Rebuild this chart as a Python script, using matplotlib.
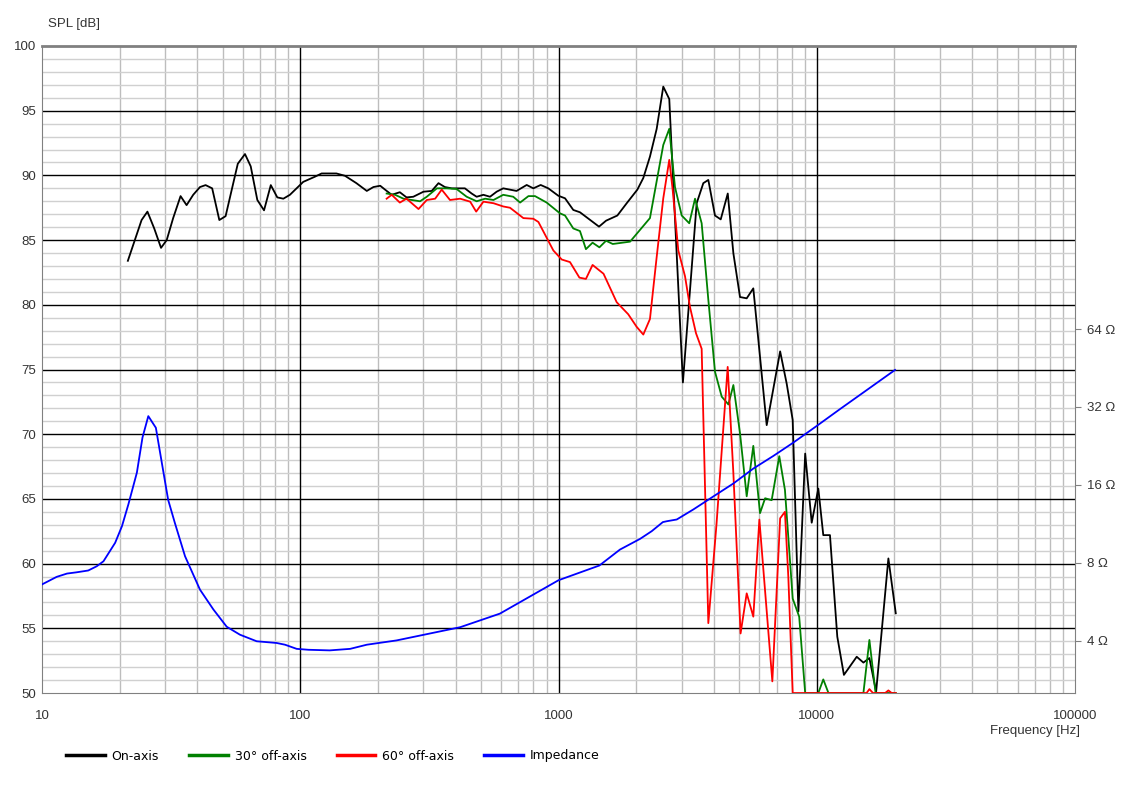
import matplotlib.pyplot as plt
import numpy as np
from matplotlib.ticker import LogLocator, NullLocator, FixedLocator, NullFormatter

# On-axis SPL (Hz, dB)
f_on = [21.5, 24.3, 25.6, 27.2, 28.9, 30.4, 32.2, 34.4, 36.3, 38.5, 40.9, 43.0, 45.6, 48.6, 51.4,
        54.3, 57.3, 61.1, 64.3, 68.2, 72.4, 76.9, 81.5, 86.0, 91.2, 102.7, 114, 121, 138, 149,
        165, 181, 192, 204, 213, 226, 243, 258, 274, 300, 323, 343, 363, 386, 434, 461, 482,
        512, 543, 576, 611, 648, 688, 753, 799, 853, 913, 998, 1060, 1141, 1211, 1435, 1528,
        1690, 1837, 2020, 2130, 2260, 2400, 2545, 2685, 2743, 3032, 3428, 3637, 3803, 4036,
        4248, 4523, 4755, 5045, 5355, 5680, 6400, 7215, 7650, 8070, 8490, 9020, 9560, 10140,
        10600, 11250, 12010, 12740, 14280, 15160, 15990, 16980, 18940, 20230]
spl_on = [83.4, 86.55, 87.2, 85.9, 84.4, 85.0, 86.7, 88.4, 87.7, 88.5, 89.1, 89.25, 89.0, 86.55, 86.85,
          88.9, 90.9, 91.65, 90.7, 88.1, 87.3, 89.25, 88.3, 88.2, 88.5, 89.5, 89.9, 90.15, 90.15, 89.97,
          89.4, 88.8, 89.1, 89.2, 88.9, 88.5, 88.7, 88.3, 88.35, 88.74, 88.8, 89.4, 89.1, 89.0, 89.0, 88.6, 88.35,
          88.5, 88.35, 88.74, 89.0, 88.9, 88.8, 89.26, 89.0, 89.26, 89.0, 88.43, 88.23, 87.33, 87.15, 86.04, 86.5,
          86.9, 87.85, 88.9, 89.8, 91.45, 93.6, 96.86, 95.9, 91.96, 74.0, 87.85, 89.4, 89.65, 86.9,
          86.6, 88.6, 83.98, 80.6, 80.5, 81.27, 70.7, 76.4, 73.9, 71.1, 56.3, 68.5, 63.16, 65.8,
          62.2, 62.2, 54.35, 51.4, 52.8, 52.35, 52.7, 50.1, 60.4, 56.16]

# 30 deg off-axis
f_30 = [216, 233, 251, 270, 291, 309, 338, 369, 403, 441, 482, 520, 560, 611, 668, 710, 765, 811,
        900, 1013, 1060, 1141, 1211, 1277, 1355, 1440, 1528, 1622, 1893, 2260, 2545, 2685, 2825,
        3000, 3209, 3378, 3584, 3803, 4036, 4286, 4548, 4755, 5045, 5355, 5680, 6030, 6310, 6690,
        7160, 7530, 8070, 8550, 9020, 10140, 10600, 11100, 15160, 15990, 16900, 20230]
spl_30 = [88.6, 88.5, 88.2, 88.1, 88.0, 88.35, 89.0, 89.0, 88.95, 88.35, 88.0, 88.2, 88.1, 88.5, 88.35, 87.9, 88.4, 88.4,
          87.9, 87.07, 86.9, 85.9, 85.7, 84.3, 84.8, 84.44, 84.95, 84.7, 84.88, 86.7, 92.35, 93.6, 89.1,
          86.9, 86.3, 88.2, 86.3, 80.4, 74.83, 72.9, 72.3, 73.8, 70.07, 65.2, 69.1, 63.9, 65.05, 64.9,
          68.3, 65.7, 57.3, 55.9, 50.0, 50.0, 51.05, 50.0, 50.0, 54.1, 50.0, 50.0]

# 60 deg off-axis
f_60 = [216, 226, 243, 258, 287, 309, 333, 353, 380, 416, 455, 480, 512, 560, 611, 649, 731, 799,
        836, 955, 1029, 1108, 1205, 1277, 1355, 1494, 1680, 1862, 2007, 2130, 2260, 2400, 2545,
        2685, 2767, 2910, 3090, 3228, 3408, 3584, 3803, 4093, 4520, 4755, 5070, 5355, 5680, 5995,
        6730, 7215, 7530, 7760, 8070, 15600, 15990, 16500, 18400, 18940, 19500, 20230]
spl_60 = [88.2, 88.5, 87.9, 88.2, 87.4, 88.1, 88.2, 88.9, 88.1, 88.2, 87.97, 87.2, 87.97, 87.85, 87.6, 87.5, 86.7, 86.65,
          86.4, 84.2, 83.5, 83.3, 82.1, 82.0, 83.08, 82.4, 80.2, 79.27, 78.3, 77.7, 78.9, 83.7, 88.23,
          91.2, 88.9, 84.2, 82.2, 79.85, 77.8, 76.6, 55.4, 63.1, 75.2, 66.98, 54.6, 57.7, 55.9, 63.4,
          50.9, 63.5, 64.0, 59.0, 50.0, 50.0, 50.3, 50.0, 50.0, 50.2, 50.0, 50.0]

# Impedance (Hz, ohm)
f_imp = [10, 11.4, 12.5, 13.6, 15.1, 16.3, 17.3, 19.2, 20.4, 21.6, 23.3, 24.5, 25.8, 27.6, 29.1,
         30.8, 32.7, 35.8, 40.9, 46.1, 51.9, 58.4, 67.8, 81.0, 87.3, 96.9, 107.5, 130, 156, 181,
         236, 416, 593, 1000, 1440, 1730, 2070, 2296, 2535, 2627, 2870, 3328, 4090, 4755, 5680,
         6790, 8110, 9980, 12300, 15150, 20100]
z_imp = [6.6, 7.06, 7.27, 7.35, 7.47, 7.76, 8.11, 9.56, 11.08, 13.45, 17.84, 24.4, 29.5, 26.6, 19.5,
         14.0, 11.4, 8.48, 6.30, 5.28, 4.53, 4.22, 3.98, 3.92, 3.86, 3.72, 3.69, 3.67, 3.72, 3.86,
         4.01, 4.51, 5.09, 6.85, 7.81, 9.0, 9.9, 10.6, 11.49, 11.58, 11.76, 12.86, 14.7, 16.2, 18.5,
         20.7, 23.3, 27.0, 31.4, 36.4, 44.5]

x_ticks = [10, 100, 1000, 10000, 100000]
y_ticks = list(range(50, 101, 5))
z_ticks = [4, 8, 16, 32, 64]

W, H = 1138, 798
fig = plt.figure(figsize=(W / 100, H / 100), dpi=100)
ax = fig.add_axes([42 / W, 1 - 693 / H, (1075 - 42) / W, (693 - 46) / H])

ax.set_xscale('log')
ax.set_xlim(10, 100000)
ax.set_ylim(50, 100)
ax.xaxis.set_major_locator(FixedLocator(x_ticks))
ax.xaxis.set_minor_locator(LogLocator(base=10, subs=np.arange(2, 10)))
ax.xaxis.set_minor_formatter(NullFormatter())
ax.set_xticklabels([str(t) for t in x_ticks])
ax.set_yticks(y_ticks)
ax.set_yticks(np.arange(50, 101, 1), minor=True)

# light minor grid, black major lines on top of it
ax.grid(which='minor', axis='y', color='#d0d0d0', lw=1)
ax.grid(which='minor', axis='x', color='#bdbdbd', lw=1)
ax.set_axisbelow(True)
for t in x_ticks[1:-1]:
    ax.axvline(t, color='black', lw=1, zorder=1)
for t in y_ticks[1:-1]:
    ax.axhline(t, color='black', lw=1, zorder=1)

ax.tick_params(which='both', length=0)
ax.tick_params(axis='y', pad=4, labelsize=9.5, colors='#333333')
ax.tick_params(axis='x', pad=12, labelsize=9.5, colors='#333333')
for lab in ax.get_xticklabels() + ax.get_yticklabels():
    lab.set_family('Liberation Sans')

for s in ['left', 'bottom']:
    ax.spines[s].set_color('#808080')
ax.spines['top'].set_color('#808080')
ax.spines['top'].set_linewidth(2)
ax.spines['right'].set_visible(False)

l1, = ax.plot(f_on, spl_on, color='black', lw=1.3, clip_on=False, label='On-axis')
l2, = ax.plot(f_30, spl_30, color='#008000', lw=1.3, clip_on=False, label='30° off-axis')
l3, = ax.plot(f_60, spl_60, color='#ff0000', lw=1.3, clip_on=False, label='60° off-axis')

ax2 = ax.twinx()
ax2.set_yscale('log')
ax2.set_ylim(10 ** (8 / 20), 10 ** (58 / 20))
ax2.yaxis.set_major_locator(FixedLocator(z_ticks))
ax2.yaxis.set_minor_locator(NullLocator())
ax2.set_yticklabels([f'{z} Ω' for z in z_ticks])
ax2.tick_params(axis='y', length=4, pad=5, color='#808080', labelsize=9.5, labelcolor='#333333')
for lab in ax2.get_yticklabels():
    lab.set_family('Liberation Sans')
for s in ['left', 'bottom', 'top']:
    ax2.spines[s].set_visible(False)
ax2.spines['right'].set_color('#808080')
l4, = ax2.plot(f_imp, z_imp, color='#0000ff', lw=1.3, label='Impedance')

fig.text(48 / W, 1 - 24 / H, 'SPL [dB]', family='Liberation Sans', fontsize=9.5,
         color='#333333', va='center', ha='left')
fig.text(1080 / W, 1 - 731 / H, 'Frequency [Hz]', family='Liberation Sans', fontsize=9.5,
         color='#333333', va='center', ha='right')

fig.legend(handles=[l1, l2, l3, l4], loc='center left', bbox_to_anchor=(66 / W, 1 - 756 / H),
           ncol=4, frameon=False, borderpad=0, borderaxespad=0, handlelength=3.1,
           handletextpad=0.55, columnspacing=2.4, prop={'family': 'DejaVu Sans', 'size': 9})
for lh in fig.legends[0].get_lines():
    lh.set_linewidth(2.5)

fig.savefig('out.png', dpi=100)
